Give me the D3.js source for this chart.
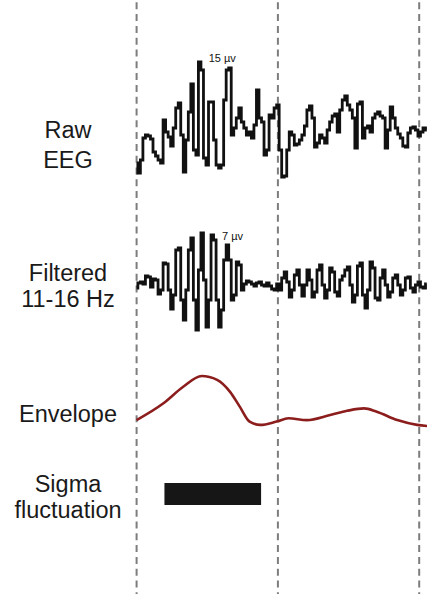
<!DOCTYPE html>
<html>
<head>
<meta charset="utf-8">
<script src="https://cdn.jsdelivr.net/npm/d3@7"></script>
<style>
  html, body { margin: 0; padding: 0; background: #fff; }
  svg { display: block; }
</style>
</head>
<body>
<svg id="chart" width="427" height="594"></svg>
<script>
// samples per second of the traces
const fs = 56;

// raw EEG, µV, one value per sample
const rawEEG = [
  -21.5, -26.5, -20, -9, -7.5, -8, -9.5, -16, -18, -20,
  -21.5, 0, -6, -8.5, -13, -4, 6, 8.5, -7.5, -26,
  -10, 4, 18, -15, -17.5, 29, 25, -19, -22.5, 9,
  9, -10, -22.5, -24, -22.5, 10, 25, 26, -7.5, -4,
  1, 6, -1, -4, -7.5, -6, -9, -2.5, 15, 1,
  -1, -17.5, -15, 2.5, 1, 6, 7.5, -15, -28.5, -28,
  -15, -6, -7.5, -12.5, -12, -10, -7.5, -3, 5, 7,
  1, -13.5, -11.5, -7.5, -9, -11.5, -5, -1, 2, 3,
  -6, 5, 10, 12, 7.5, 5, 1, -14, 8, 9,
  -9, -4, -3, -6, 1, 3, 4, 2, 1, -14,
  -5, 6.5, 1, -4, -7, -9, -13, -13.5, -6.5, -4,
  -3.5, -5, -8, -6, -4, -5
];

// band-pass filtered 11-16 Hz, µV
const filtered = [
  -1.5, 1, 1.5, 0.5, 4.5, 4, -1, 3, 2.5, -4.5,
  -2.5, 11, 10.5, -2.5, -12, -5, 17.5, 18.5, -7.5, -17.5,
  -2.5, 17.5, 23.5, -7.5, -22.5, 7.5, 26, 2.5, -21, -7.5,
  25, 22.5, -7.5, -21, -12.5, 12.5, 20, 12.5, -7.5, -5,
  11.5, 10, -2.5, 0.5, 2, 1.5, 0.5, -0.5, 1, 1.5,
  0, -0.5, 1, -0.5, -2, -2.5, 0.5, -2.5, 3.5, 6.5,
  1.5, -6, -2.5, 5, 7.5, 0, -5.5, 0, 7.5, 2.5,
  -6, -3.5, 7.5, 10, 0, -6.5, -2.5, 8.5, 6.5, -3.5,
  -5.5, 2.5, 4.5, 7.5, 9, 0, -8.5, -5, 9.5, 11,
  -5, -11.5, -2.5, 11.5, 8.5, -6.5, -7.5, 3.5, 7.5, 0,
  -6, -3.5, 3.5, 5, 0, -5, -2.5, 3.5, 4, -1.5,
  -3.5, 0, 1.5, -1, -1.5, 0.5
];

// envelope of the filtered signal
const envelopeTime = [0, 0.19, 0.33, 0.46, 0.57, 0.66, 0.73, 0.80, 0.875, 0.99,
  1.075, 1.205, 1.37, 1.49, 1.61, 1.70, 1.845, 1.985, 2.06];
const envelopeValue = [3.3, 8.9, 14.4, 18, 16.7, 12.8, 7.8, 2.8, 1.7, 2.8,
  3.9, 3.3, 5, 6.4, 7.2, 6.1, 3.3, 1.7, 1.3];

// detected sigma fluctuation (s)
const sigmaStart = [0.197];
const sigmaEnd = [0.881];

// dashed time markers (s)
const markers = [0, 1, 2];

const rowLabels = [["Raw", "EEG"], ["Filtered", "11-16 Hz"], ["Envelope"], ["Sigma", "fluctuation"]];
const scaleLabels = ["15 µv", "7 µv"];

const svg = d3.select('#chart');
const width = 427;
const height = 594;
const font = 'Liberation Sans, Arial, sans-serif';

const x = d3.scaleLinear()
  .domain([0, 2])
  .range([136.6, 419.2]);

const yRaw = d3.scaleLinear().domain([-30, 30]).range([180, 60]);
const yFilt = d3.scaleLinear().domain([-25, 25]).range([335, 235]);
const yEnv = d3.scaleLinear().domain([0, 20]).range([430, 370]);

// dashed markers
svg.append('g')
  .selectAll('line')
  .data(markers)
  .join('line')
  .attr('x1', d => x(d))
  .attr('x2', d => x(d))
  .attr('y1', 2.3)
  .attr('y2', height)
  .attr('stroke', '#7d7d7d')
  .attr('stroke-width', 2)
  .attr('stroke-dasharray', '7,4.8');

function stepLine(y) {
  return d3.line()
    .x((d, i) => x(i / fs))
    .y(d => y(d))
    .curve(d3.curveStep);
}

svg.append('path')
  .datum(rawEEG)
  .attr('fill', 'none')
  .attr('stroke', '#111')
  .attr('stroke-width', 2.8)
  .attr('d', stepLine(yRaw));

svg.append('path')
  .datum(filtered)
  .attr('fill', 'none')
  .attr('stroke', '#111')
  .attr('stroke-width', 2.8)
  .attr('d', stepLine(yFilt));

// envelope
const envData = envelopeTime.map((t, i) => ({ t: t, v: envelopeValue[i] }));
svg.append('path')
  .datum(envData)
  .attr('fill', 'none')
  .attr('stroke', '#8c1d1d')
  .attr('stroke-width', 2.6)
  .attr('d', d3.line()
    .x(d => x(d.t))
    .y(d => yEnv(d.v))
    .curve(d3.curveMonotoneX));

// sigma bar
svg.append('g')
  .selectAll('rect')
  .data(sigmaStart)
  .join('rect')
  .attr('x', d => x(d))
  .attr('y', 483)
  .attr('width', (d, i) => x(sigmaEnd[i]) - x(d))
  .attr('height', 22)
  .attr('fill', '#161616');

// small amplitude labels
svg.append('text')
  .attr('x', x(0.51))
  .attr('y', yRaw(29))
  .attr('font-family', font)
  .attr('font-size', 11)
  .attr('fill', '#111')
  .text(scaleLabels[0]);

svg.append('text')
  .attr('x', x(0.605))
  .attr('y', yFilt(22.5))
  .attr('font-family', font)
  .attr('font-size', 11)
  .attr('fill', '#111')
  .text(scaleLabels[1]);

// row labels
const baselines = [[138, 168], [281, 307], [422], [492, 518]];
const labels = svg.append('g')
  .attr('font-family', font)
  .attr('font-size', 23.5)
  .attr('fill', '#1a1a1a')
  .attr('text-anchor', 'middle');

rowLabels.forEach((lines, r) => {
  lines.forEach((line, k) => {
    labels.append('text')
      .attr('x', 68)
      .attr('y', baselines[r][k])
      .text(line);
  });
});
</script>
</body>
</html>
